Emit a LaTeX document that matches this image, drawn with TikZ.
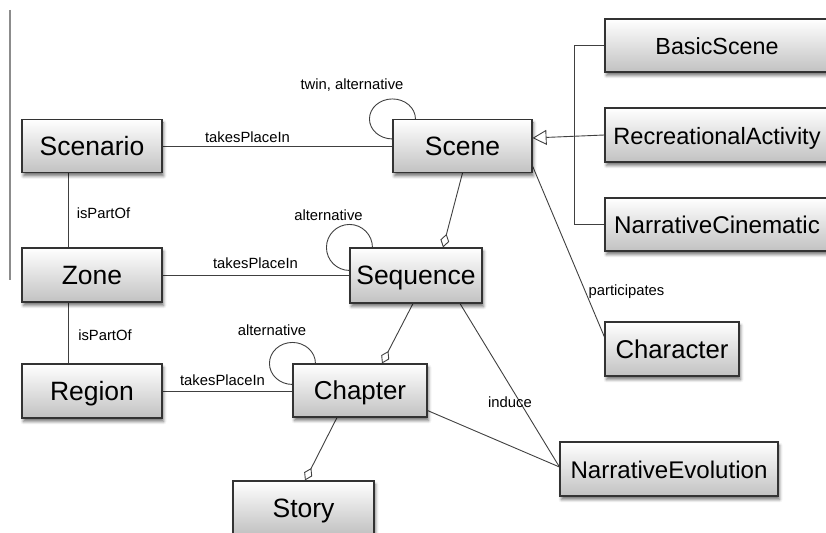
\documentclass[tikz,border=0pt]{standalone}
\usepackage{fontspec}
\setmainfont{Liberation Sans}
\usetikzlibrary{arrows.meta,calc,shadows.blur,backgrounds}

\tikzset{
  cls/.style={draw=black!80, line width=1.1pt, top color=white, bottom color=black!24,
    minimum height=53pt, inner sep=0pt, font=\fontsize{26.5}{30}\selectfont,
    text height=19pt, text depth=0pt,
    blur shadow={shadow xshift=1.5pt, shadow yshift=-3.5pt, shadow blur radius=3pt, shadow opacity=55}},
  lbl/.style={font=\fontsize{14.8}{17}\selectfont, inner sep=0pt},
  link/.style={draw=black!75, line width=0.9pt},
  agg/.style={link, -{Diamond[open, length=14pt, width=9pt, line width=0.9pt]}},
  gen/.style={link, -{Triangle[open, length=14pt, width=15pt, line width=0.9pt]}},
  selfloop/.style={link},
}

\begin{document}
\begin{tikzpicture}[x=1pt, y=1pt]
\useasboundingbox (0,0) rectangle (826,532);

% frame edge on the left
\draw[draw=black!45, line width=2pt] (10,522) -- (10,252);

% classes
\node[cls, minimum width=140pt] (scenario) at (92,386) {Scenario};
\node[cls, minimum width=139pt] (scene) at (462.5,386) {Scene};
\node[cls, minimum width=224pt, font=\fontsize{23.3}{28}\selectfont] (basic) at (717,486.5) {BasicScene};
\node[cls, minimum width=224pt, minimum height=54pt, font=\fontsize{23.6}{28}\selectfont] (recre) at (717,397) {RecreationalActivity};
\node[cls, minimum width=224pt, font=\fontsize{24.2}{28}\selectfont] (narrcin) at (717,307.5) {NarrativeCinematic};
\node[cls, minimum width=140pt, minimum height=54pt] (zone) at (92,257) {Zone};
\node[cls, minimum width=132pt, minimum height=55pt] (sequence) at (416,256.5) {Sequence};
\node[cls, minimum width=140pt, minimum height=54pt] (region) at (92,141) {Region};
\node[cls, minimum width=134pt, font=\fontsize{25.9}{30}\selectfont] (chapter) at (360,141.5) {Chapter};
\node[cls, minimum width=141pt] (story) at (303.5,24.5) {Story};
\node[cls, minimum width=134pt, minimum height=54pt, font=\fontsize{25.7}{30}\selectfont] (character) at (672,183) {Character};
\node[cls, minimum width=218pt, minimum height=54pt, font=\fontsize{24.1}{28}\selectfont] (narrevo) at (669,63) {NarrativeEvolution};

% associations
\begin{scope}[on background layer]
\draw[link] (scenario.east) -- (scenario.east -| scene.west);
\draw[link] ($(scenario.south)+(-24,0)$) -- ($(zone.north)+(-24,0)$);
\draw[link] ($(zone.south)+(-24,0)$) -- ($(region.north)+(-24,0)$);
\draw[link] (zone.east) -- (zone.east -| sequence.west);
\draw[link] (region.east) -- (region.east -| chapter.west);

% generalisation tree
\draw[link] (basic.west) -- ++(-30,0) |- (narrcin.west);
\draw[gen] (recre.west) -- ($(scene.east)+(0,8)$);

% aggregations
\draw[agg] (scene.south) -- ($(sequence.north)+(27,0)$);
\draw[agg] ($(sequence.south)+(-3,0)$) -- ($(chapter.north)+(22,0)$);
\draw[agg] ($(chapter.south)+(-23,0)$) -- ($(story.north)+(1.5,0)$);

% other links
\draw[link] ($(sequence.south)+(44,0)$) -- ($(narrevo.west)+(0,2)$);
\draw[link] ($(chapter.south east)+(0,7)$) -- ($(narrevo.west)+(0,2)$);
\draw[link] ($(scene.south east)+(0,7)$) -- ($(character.west)+(0,12)$);

% self associations
\draw[selfloop] ($(scene.north west)+(0,-20)$) arc[start angle=-90, end angle=-360, x radius=23pt, y radius=20pt];
\draw[selfloop] ($(sequence.north west)+(0,-23)$) arc[start angle=-90, end angle=-360, radius=23pt];
\draw[selfloop] ($(chapter.north west)+(0,-21)$) arc[start angle=-90, end angle=-360, x radius=23pt, y radius=21pt];
\end{scope}

% labels
\node[lbl] (t1) at (247.5,394.5) {takesPlaceIn};
\node[lbl] (t2) at (255.5,268.5) {takesPlaceIn};
\node[lbl] (t3) at (222.5,152) {takesPlaceIn};
\node[lbl] (p1) at (103.5,319) {isPartOf};
\node[lbl] (p2) at (105,197) {isPartOf};
\node[lbl] (a1) at (352,447) {twin, alternative};
\node[lbl] (a2) at (328.5,317) {alternative};
\node[lbl] (a3) at (272,202) {alternative};
\node[lbl] (ind) at (510,129.5) {induce};
\node[lbl] (par) at (626.5,240.5) {participates};
\end{tikzpicture}
\end{document}
